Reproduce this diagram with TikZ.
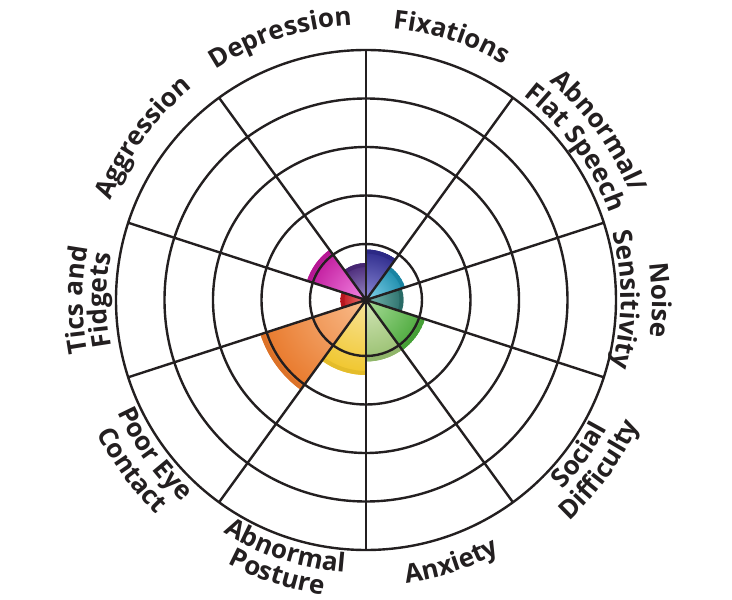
\documentclass[tikz,border=0pt]{standalone}
\usepackage{fontspec}
\setmainfont{Open Sans}
\usetikzlibrary{decorations.text}

\definecolor{ink}{HTML}{231F20}
\definecolor{fixin}{HTML}{8C8AD6}  \definecolor{fixout}{HTML}{2E2B8C}
\definecolor{spin}{HTML}{86D4EC}   \definecolor{spout}{HTML}{1B8BAB}
\definecolor{noisin}{HTML}{78B8B0} \definecolor{noisout}{HTML}{2B6F6B}
\definecolor{socin}{HTML}{A8DC98}  \definecolor{socout}{HTML}{4AA83A}
\definecolor{anxin}{HTML}{D4E6B8}  \definecolor{anxout}{HTML}{98C070}
\definecolor{posin}{HTML}{F8E49A}  \definecolor{posout}{HTML}{F0C62C}
\definecolor{eyein}{HTML}{F9BC8C}  \definecolor{eyeout}{HTML}{E8782A}
\definecolor{ticin}{HTML}{EC7878}  \definecolor{ticout}{HTML}{C0161E}
\definecolor{aggin}{HTML}{F488E4}  \definecolor{aggout}{HTML}{C0189C}
\definecolor{depin}{HTML}{9A8CC8}  \definecolor{depout}{HTML}{4A2878}

\newcommand\labelfont{\fontsize{26}{30}\selectfont\bfseries}
% upper half: text runs clockwise, tops outwards
\newcommand\uplabel[3]{\path[decorate,decoration={text along path,text align=center,
    text color=ink,text={|\labelfont|#3}}]
  (#1+60:#2) arc[start angle=#1+60,end angle=#1-60,radius=#2];}
% lower half: text runs counterclockwise, tops inwards
\newcommand\downlabel[3]{\path[decorate,decoration={text along path,text align=center,
    text color=ink,text={|\labelfont|#3}}]
  (#1-60:#2) arc[start angle=#1-60,end angle=#1+60,radius=#2];}

\begin{document}
\begin{tikzpicture}[x=1pt,y=1pt,
    ring/.style={ink,line width=2.4}]
  \useasboundingbox (-366,-300) rectangle (366,300);

  % coloured wedges
  \foreach \a/\r/\ci/\co in {54/50.5/fixin/fixout,18/41/spin/spout,-18/37.5/noisin/noisout,
      -54/62/socin/socout,-90/61.5/anxin/anxout,-126/75/posin/posout,-162/111/eyein/eyeout,
      162/25.5/ticin/ticout,126/62/aggin/aggout,90/37/depin/depout}
  {
    \begin{scope}
      \clip (0,0) -- (\a:\r) arc[start angle=\a,end angle=\a+36,radius=\r] -- cycle;
      \shade[inner color=\ci,outer color=\co] (0,0) circle (\r);
      \draw[line width=4,\co!95!black] (\a:\r-2) arc[start angle=\a,end angle=\a+36,radius=\r-2];
    \end{scope}
  }

  % rings and spokes
  \foreach \r in {56,104.5,153,201.5,250}
    {\draw[ring] (0,0) circle (\r);}
  \foreach \a in {18,54,...,342}
    {\draw[ring] (0,0) -- (\a:250);}
  \fill[ink] (0,0) circle (4.5);

  % labels
  \uplabel{72}{273}{Fixations}
  \uplabel{108}{275}{Depression}
  \uplabel{144}{274}{Aggression}
  \uplabel{36}{285}{Abnormal/}
  \uplabel{36}{258}{Flat Speech}
  \uplabel{0}{286}{Noise}
  \uplabel{0}{255}{Sensitivity}
  \uplabel{180}{283}{Tics and}
  \uplabel{180}{259}{Fidgets}
  \downlabel{288}{286}{Anxiety}
  \downlabel{252}{273}{Abnormal}
  \downlabel{252}{298}{Posture}
  \downlabel{216}{273}{Poor Eye}
  \downlabel{216}{300}{Contact}
  \downlabel{324}{273}{Social}
  \downlabel{324}{300}{Difficulty}
\end{tikzpicture}
\end{document}
